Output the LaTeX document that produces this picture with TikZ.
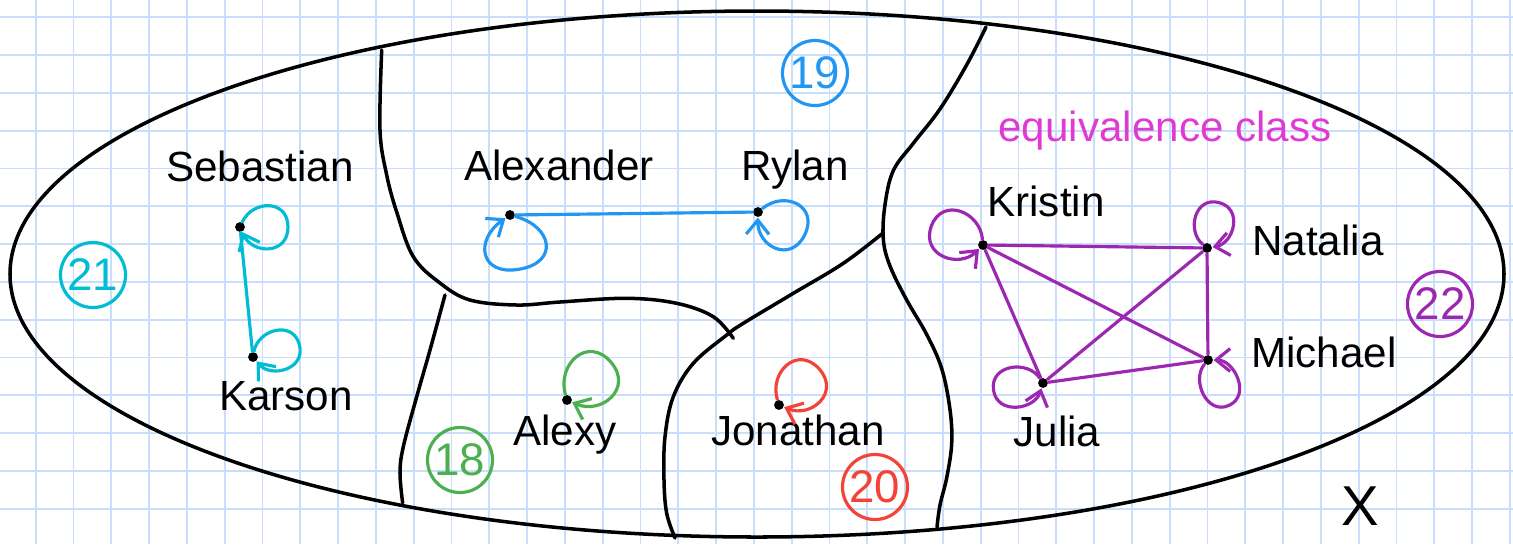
\documentclass[tikz,border=0pt]{standalone}
\usepackage{fontspec}
\setmainfont{Liberation Sans}
\usetikzlibrary{arrows.meta}
\definecolor{gridblue}{RGB}{200,222,250}
\definecolor{ccyan}{RGB}{0,188,212}
\definecolor{cblue}{RGB}{33,150,243}
\definecolor{cgreen}{RGB}{76,175,80}
\definecolor{cred}{RGB}{244,67,54}
\definecolor{cpurple}{RGB}{156,39,176}
\definecolor{cmagenta}{RGB}{224,58,212}
% self loop: colour, node, direction, extent, width, orientation (+1/-1)
\newcommand{\sloop}[6]{%
  \draw[rel, #1] (#2) .. controls +({#3-#6*65}:{0.75*#5}) and +({#3-#6*90}:{0.7*#5}) .. ++({#3}:{#4})
    .. controls +({#3+#6*90}:{0.7*#5}) and +({#3+#6*65}:{0.75*#5}) .. (#2);}
\begin{document}
\begin{tikzpicture}[x=0.1mm, y=-0.1mm,
  gridline/.style={draw=gridblue, line width=0.55pt},
  divider/.style={draw=black, line width=1pt, line cap=round, line join=round},
  dotnode/.style={circle, fill=black, inner sep=0pt, minimum size=2.8pt},
  rel/.style={line width=0.9pt, line cap=round, -{Straight Barb[length=4pt,width=6.5pt]}},
  link/.style={line width=0.9pt, line cap=round},
  agenum/.style={circle, draw, line width=0.9pt, minimum size=18.5pt, inner sep=0pt, font=\fontsize{13}{13}\selectfont},
  person/.style={anchor=base, inner sep=0pt, font=\fontsize{12}{12}\selectfont},
]
\useasboundingbox (0,0) rectangle (1513,544);
\fill[white] (0,0) rectangle (1513,544);
% grid paper
\foreach \k in {0,...,39} \draw[gridline] ({35.7+37.8*\k},0) -- ({35.7+37.8*\k},544);
\foreach \k in {0,...,13} \draw[gridline] (0,{17.3+37.8*\k}) -- (1513,{17.3+37.8*\k});

% the set X
\draw[divider] (757,274) ellipse [x radius=747, y radius=263];

% partition lines
\draw[divider] plot[smooth, tension=0.6] coordinates {(381.7,50) (380,130) (386.7,175) (396.7,212) (413.3,256.7) (440,283) (470,300) (516.7,305) (560,302) (626.7,298.3) (676.7,303.3) (713.3,316.7) (733.3,338.3)};
\draw[divider] plot[smooth, tension=0.6] coordinates {(883,233) (843.3,263.3) (793.3,293.3) (743.3,323.3) (726.7,335) (693.3,363.3) (673.3,396.7) (665,436.7) (664,480) (666.7,513.3) (675,538)};
\draw[divider] plot[smooth, tension=0.6] coordinates {(986,27) (966.7,64.8) (940,109) (913.3,143.3) (893.3,170.6) (885,204.8) (883.3,239) (890,266) (906.7,300) (926.7,334.5) (941.7,368.6) (950,409.6) (951.7,443.7) (946.7,477.8) (940,505) (937,527)};
\draw[divider] plot[smooth, tension=0.6] coordinates {(445,295) (430,350) (416.7,396.7) (403.3,446.7) (400,473) (402.7,503)};

% class numbers
\node[agenum, ccyan] (n21) at (93,275) {21};
\node[agenum, cblue] (n19) at (815,73) {19};
\node[agenum, cgreen] (n18) at (460,460) {18};
\node[agenum, cred] (n20) at (875,487) {20};
\node[agenum, cpurple] (n22) at (1440,304) {22};

% names
\node[person] (tSeb) at (260,181) {Sebastian};
\node[person] (tKar) at (286,410) {Karson};
\node[person] (tAlx) at (559,180) {Alexander};
\node[person] (tRyl) at (795,180) {Rylan};
\node[person] (tAly) at (565,445) {Alexy};
\node[person] (tJon) at (798,445) {Jonathan};
\node[person] (tKri) at (1046,216) {Kristin};
\node[person] (tNat) at (1318,255) {Natalia};
\node[person] (tMic) at (1324,367) {Michael};
\node[person] (tJul) at (1057,446) {Julia};
\node[person, cmagenta] (tEq) at (1165,141) {equivalence class};
\node[font=\fontsize{16}{16}\selectfont, inner sep=0pt] (tX) at (1360,506) {X};

% elements (dots)
\node[dotnode] (seb) at (240,227) {};
\node[dotnode] (kar) at (253,357) {};
\node[dotnode] (alx) at (510,215) {};
\node[dotnode] (ryl) at (758,212) {};
\node[dotnode] (aly) at (567,400) {};
\node[dotnode] (jon) at (779,405) {};
\node[dotnode] (kri) at (983,245) {};
\node[dotnode] (nat) at (1207,248) {};
\node[dotnode] (mic) at (1208,360) {};
\node[dotnode] (jul) at (1043,383) {};

% class 21
\draw[link, ccyan] (kar) -- (seb);
\sloop{ccyan}{seb}{0}{48}{40}{1}
\sloop{ccyan}{kar}{-15}{48}{37}{1}
% class 19
\draw[link, cblue] (alx) -- (ryl);
\sloop{cblue}{alx}{80}{55}{58}{1}
\sloop{cblue}{ryl}{26}{52}{46}{1}
% class 18
\sloop{cgreen}{aly}{-41}{58}{50}{1}
% class 20
\sloop{cred}{jon}{-42}{54}{46}{1}
% class 22
\draw[link, cpurple] (kri) -- (nat);
\draw[link, cpurple] (kri) -- (mic);
\draw[link, cpurple] (kri) -- (jul);
\draw[link, cpurple] (jul) -- (nat);
\draw[link, cpurple] (jul) -- (mic);
\draw[link, cpurple] (nat) -- (mic);
\sloop{cpurple}{kri}{200}{55}{45}{-1}
\sloop{cpurple}{nat}{-75}{47}{36}{1}
\sloop{cpurple}{mic}{65}{50}{35}{-1}
\sloop{cpurple}{jul}{172}{50}{37}{-1}
\end{tikzpicture}
\end{document}
